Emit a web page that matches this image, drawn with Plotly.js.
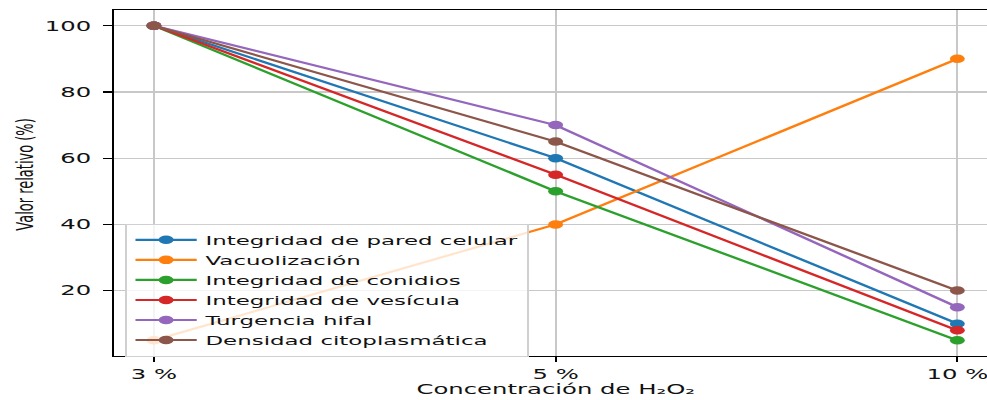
<!DOCTYPE html>
<html>
<head>
<meta charset="utf-8">
<script src="https://cdn.plot.ly/plotly-3.0.1.min.js"></script>
<style>
  html, body { margin: 0; padding: 0; overflow: hidden; background: #fff; width: 987px; height: 400px; }
  #chart { width: 570px; height: 400px; transform: scaleX(1.75); transform-origin: 0 0; }
</style>
</head>
<body>
<div id="chart"></div>
<script>
// Data
const concentraciones = ["3 %", "5 %", "10 %"];
const seriesNames = [
  "Integridad de pared celular",
  "Vacuolización",
  "Integridad de conidios",
  "Integridad de vesícula",
  "Turgencia hifal",
  "Densidad citoplasmática"
];
const paredCelular = [100, 60, 10];
const vacuolizacion = [5, 40, 90];
const conidios = [100, 50, 5];
const vesicula = [100, 55, 8];
const turgencia = [100, 70, 15];
const densidad = [100, 65, 20];
const seriesValues = [paredCelular, vacuolizacion, conidios, vesicula, turgencia, densidad];
const colors = ["#1f77b4", "#ff7f0e", "#2ca02c", "#d62728", "#9467bd", "#8c564b"];

const titleText = "Cambios morfológicos y fisiológicos del hongo según la concentración de H₂O₂";
const xTitle = "Concentración de H₂O₂";
const yTitle = "Valor relativo (%)";

const traces = seriesNames.map((name, i) => ({
  type: "scatter",
  mode: "lines+markers",
  name: name,
  x: concentraciones,
  y: seriesValues[i],
  line: { color: colors[i], width: 2.1 },
  marker: { color: colors[i], size: 8.5 }
}));

const font = { family: "DejaVu Sans, sans-serif", size: 13.9, color: "#111" };

const layout = {
  width: 570,
  height: 400,
  margin: { l: 65, r: 0, t: 10, b: 44 },
  paper_bgcolor: "#ffffff",
  plot_bgcolor: "#ffffff",
  font: font,
  showlegend: true,
  hovermode: false,
  xaxis: {
    type: "category",
    range: [-0.1, 2.1],
    showgrid: true,
    gridcolor: "#c8c8c8",
    gridwidth: 1.1,
    zeroline: false,
    showline: true,
    linecolor: "#000",
    linewidth: 1.1,
    mirror: true,
    ticks: "outside",
    ticklen: 5,
    tickwidth: 1.1,
    tickcolor: "#000",
    tickfont: font
  },
  yaxis: {
    range: [0.25, 104.75],
    tickvals: [20, 40, 60, 80, 100],
    showgrid: true,
    gridcolor: "#c8c8c8",
    gridwidth: 1.1,
    zeroline: false,
    showline: true,
    linecolor: "#000",
    linewidth: 1.1,
    mirror: true,
    ticks: "outside",
    ticklen: 5,
    tickwidth: 1.1,
    tickcolor: "#000",
    ticklabelstandoff: 4,
    tickfont: font
  },
  legend: {
    x: 0.0127,
    y: 0.382,
    xanchor: "left",
    yanchor: "top",
    bgcolor: "rgba(255,255,255,0.8)",
    bordercolor: "#d0d0d0",
    borderwidth: 1,
    font: { family: "DejaVu Sans, sans-serif", size: 13.1, color: "#111" },
    itemwidth: 35
  },
  annotations: [
    {
      text: yTitle, xref: "paper", yref: "paper",
      x: -0.1016, y: 0.526, xanchor: "center", yanchor: "middle",
      textangle: -90, showarrow: false,
      font: { family: "DejaVu Sans, sans-serif", size: 13, color: "#111" }
    },
    {
      text: xTitle, xref: "paper", yref: "paper",
      x: 0.5, y: -0.0954, xanchor: "center", yanchor: "middle",
      showarrow: false, font: font
    },
    {
      text: titleText, xref: "paper", yref: "paper",
      x: 0.5, y: 1.0565, xanchor: "center", yanchor: "middle",
      showarrow: false,
      font: { family: "DejaVu Sans, sans-serif", size: 16.7, color: "#111" }
    }
  ]
};

Plotly.newPlot("chart", traces, layout, { displayModeBar: false, staticPlot: true });
</script>
</body>
</html>
